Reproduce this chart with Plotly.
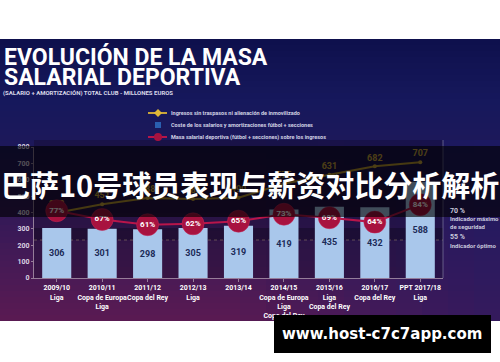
import plotly.graph_objects as go

# ---------------- data ----------------
seasons = ["2009/10", "2010/11", "2011/12", "2012/13", "2013/14",
           "2014/15", "2015/16", "2016/17", "PPT 2017/18"]
titles = ["Liga", "Copa de Europa<br>Liga", "Copa del Rey", "Liga", "",
          "Copa de Europa<br>Liga<br>Copa del Rey", "Liga<br>Copa del Rey",
          "Copa del Rey", "Liga"]
salary_cost = [306, 301, 298, 305, 319, 419, 435, 432, 588]
revenue = [398, 451, 488, 483, 490, 575, 631, 682, 707]
salary_pct = [77, 67, 61, 62, 65, 73, 69, 64, 84]
y_ticks = [0, 100, 200, 300, 400, 500, 600, 700, 800]

legend_labels = [
    "Ingresos sin traspasos ni alienación de inmovilizado",
    "Coste de los salarios y amortizaciones fútbol + secciones",
    "Masa salarial deportiva (fútbol + secciones) sobre los ingresos",
]
header_1 = "EVOLUCIÓN DE LA MASA"
header_2 = "SALARIAL DEPORTIVA"
subheader = "(SALARIO + AMORTIZACIÓN) TOTAL CLUB - MILLONES EUROS"
cn_title = "巴萨10号球员表现与薪资对比分析解析"
watermark = "www.host-c7c7app.com"

# ---------------- geometry helpers ----------------
W, H = 500, 362
L, R, T, B = 34, 57, 147, 84
PW, PH = W - L - R, H - T - B


def X(px):
    return (px - L) / PW


def Y(py):
    return (H - B - py) / PH


def hexrgb(h):
    h = h.lstrip("#")
    return tuple(int(h[i:i + 2], 16) for i in (0, 2, 4))


def lerp(c1, c2, t):
    return tuple(round(a + (b - a) * t) for a, b in zip(c1, c2))


shapes = []
# vertical background gradient (image area)
stops = [(39, "#0e104c"), (100, "#16185c"), (150, "#1e185a"),
         (200, "#2e1858"), (260, "#451a56"), (322, "#5a1a52")]
y0 = 39
step = 6
while y0 < 322:
    y1 = min(y0 + step, 322)
    ym = (y0 + y1) / 2
    for (a, ca), (b, cb) in zip(stops[:-1], stops[1:]):
        if a <= ym <= b:
            c = lerp(hexrgb(ca), hexrgb(cb), (ym - a) / (b - a))
            break
    shapes.append(dict(type="rect", xref="paper", yref="paper", layer="below",
                       x0=X(0), x1=X(W), y0=Y(y1), y1=Y(y0), line_width=0,
                       fillcolor="rgb(%d,%d,%d)" % c))
    y0 = y1
# horizontal blue tint on the right
for i in range(10):
    xa = 240 + i * 26
    shapes.append(dict(type="rect", xref="paper", yref="paper", layer="below",
                       x0=X(xa), x1=X(xa + 26), y0=Y(322), y1=Y(140), line_width=0,
                       fillcolor="rgba(28,26,100,%.3f)" % (0.06 * (i + 1))))
# darker chart area
shapes.append(dict(type="rect", xref="paper", yref="paper", layer="below",
                   x0=0, x1=1, y0=0, y1=Y(140), line_width=0,
                   fillcolor="rgba(15,5,30,0.30)"))
shapes.append(dict(type="rect", xref="paper", yref="paper", layer="below",
                   x0=0, x1=1, y0=Y(240), y1=Y(228), line_width=0,
                   fillcolor="rgba(10,5,20,0.35)"))
shapes.append(dict(type="line", xref="paper", yref="paper", layer="below",
                   x0=0, x1=1, y0=Y(240), y1=Y(240),
                   line=dict(color="rgba(170,150,110,0.45)", width=1, dash="dot")))
# right separator
shapes.append(dict(type="line", xref="paper", yref="paper",
                   x0=X(443), x1=X(443), y0=Y(278), y1=Y(140),
                   line=dict(color="rgba(140,140,170,0.6)", width=1)))
# legend icons
shapes.append(dict(type="line", xref="paper", yref="paper",
                   x0=X(148), x1=X(167), y0=Y(113), y1=Y(113),
                   line=dict(color="#c9a43a", width=2)))
shapes.append(dict(type="rect", xref="paper", yref="paper",
                   x0=X(155), x1=X(161), y0=Y(128), y1=Y(122), line_width=0,
                   fillcolor="#2a5fb0"))
shapes.append(dict(type="line", xref="paper", yref="paper",
                   x0=X(148), x1=X(167), y0=Y(137), y1=Y(137),
                   line=dict(color="#b8154a", width=2)))
shapes.append(dict(type="circle", xref="paper", yref="paper",
                   x0=X(154), x1=X(162), y0=Y(141), y1=Y(133), line_width=0,
                   fillcolor="#a8123f"))
shapes.append(dict(type="path", xref="paper", yref="paper",
                   path="M %f,%f L %f,%f L %f,%f L %f,%f Z" % (
                       X(158), Y(109), X(162), Y(113), X(158), Y(117), X(154), Y(113)),
                   line_width=0, fillcolor="#e0b838"))
# title band
shapes.append(dict(type="rect", xref="paper", yref="paper", layer="above",
                   x0=X(0), x1=X(W), y0=Y(217), y1=Y(146), line_width=0,
                   fillcolor="rgba(0,0,0,0.62)"))
# white bottom + watermark box
shapes.append(dict(type="rect", xref="paper", yref="paper", layer="above",
                   x0=X(0), x1=X(W), y0=Y(H), y1=Y(321), line_width=0,
                   fillcolor="white"))
shapes.append(dict(type="rect", xref="paper", yref="paper", layer="above",
                   x0=X(274), x1=X(491), y0=Y(353), y1=Y(315), line_width=0,
                   fillcolor="black"))

FONT = "Liberation Sans Narrow, Roboto, Arial, sans-serif"

fig = go.Figure()
fig.add_trace(go.Bar(
    x=list(range(len(seasons))), y=salary_cost, width=0.64,
    marker=dict(color="#a9c7eb", line_width=0),
    text=salary_cost, texttemplate="<b>%{text}</b>",
    textposition="inside", insidetextanchor="middle",
    textfont=dict(color="#1c2b58", size=9, family=FONT),
    showlegend=False, hoverinfo="skip"))
fig.add_trace(go.Scatter(
    x=list(range(len(seasons))), y=revenue, mode="lines+markers+text",
    line=dict(color="#b8962e", width=2), marker=dict(size=4, color="#c9a43a"),
    text=revenue, texttemplate="<b>%{text}</b>", textposition="top center",
    textfont=dict(color="#c9a43a", size=9, family=FONT),
    showlegend=False, hoverinfo="skip"))
fig.add_trace(go.Scatter(
    x=list(range(len(seasons))), y=salary_pct, yaxis="y2",
    mode="lines+markers+text",
    line=dict(color="#b8154a", width=2),
    marker=dict(size=22, color="#a8123f", line=dict(color="rgba(200,40,90,0.5)", width=1)),
    text=[f"{p}%" for p in salary_pct], texttemplate="<b>%{text}</b>",
    textposition="middle center",
    textfont=dict(color="white", size=8, family=FONT),
    showlegend=False, hoverinfo="skip"))

ticktext = [f"<b>{s}</b>" + (f"<br><b>{t}</b>" if t else "") for s, t in zip(seasons, titles)]

ann = []


def add_ann(x, y, text, size, color, xanchor="left", yanchor="middle", family=FONT):
    ann.append(dict(xref="paper", yref="paper", x=x, y=y, text=text, showarrow=False,
                    xanchor=xanchor, yanchor=yanchor,
                    font=dict(color=color, size=size, family=family)))


add_ann(X(2), Y(57), f"<b>{header_1}</b>", 23, "white")
add_ann(X(2), Y(77), f"<b>{header_2}</b>", 23, "white")
add_ann(X(1), Y(93), f"<b>{subheader}</b>", 6, "#d8d8e8")
for i, lab in enumerate(legend_labels):
    add_ann(X(169), Y(113 + 12 * i), f"<b>{lab}</b>", 5.5, "#d0d0e2")
right_texts = [("<b>70 %</b>", 211, 7), ("<b>Indicador máximo</b>", 218, 6),
               ("<b>de seguridad</b>", 226, 6), ("<b>55 %</b>", 237, 7),
               ("<b>Indicador óptimo</b>", 245, 6)]
for t, yy, sz in right_texts:
    add_ann(X(448), Y(yy), t, sz, "#c8c8dc")
add_ann(X(250), Y(184), f"<b>{cn_title}</b>", 29, "white", xanchor="center",
        family="Noto Sans CJK SC")
add_ann(X(382), Y(334), f"<b>{watermark}</b>", 15, "white", xanchor="center",
        family="DejaVu Sans, Verdana, sans-serif")

fig.update_layout(
    width=W, height=H, margin=dict(l=L, r=R, t=T, b=B),
    paper_bgcolor="white", plot_bgcolor="rgba(0,0,0,0)",
    shapes=shapes, annotations=ann, bargap=0.36,
    xaxis=dict(range=[-0.5, len(seasons) - 0.5], tickvals=list(range(len(seasons))),
               ticktext=ticktext, tickangle=0, automargin=False,
               tickfont=dict(color="white", size=7, family=FONT),
               showline=True, linecolor="rgba(170,150,170,0.8)", linewidth=1,
               ticks="outside", tickson="boundaries", ticklen=3,
               tickcolor="rgba(170,150,170,0.8)", showgrid=False, zeroline=False,
               fixedrange=True),
    yaxis=dict(range=[0, 800], tickvals=y_ticks, automargin=False,
               ticktext=[f"<b>{v}</b>" for v in y_ticks],
               tickfont=dict(color="#dcd4e4", size=7, family=FONT),
               showline=True, linecolor="rgba(170,150,170,0.8)", linewidth=1,
               ticks="outside", ticklen=2, tickcolor="rgba(170,150,170,0.8)",
               showgrid=False, zeroline=False),
    yaxis2=dict(range=[0, 150], overlaying="y", side="right", visible=False),
)

fig.write_html("out.html")
